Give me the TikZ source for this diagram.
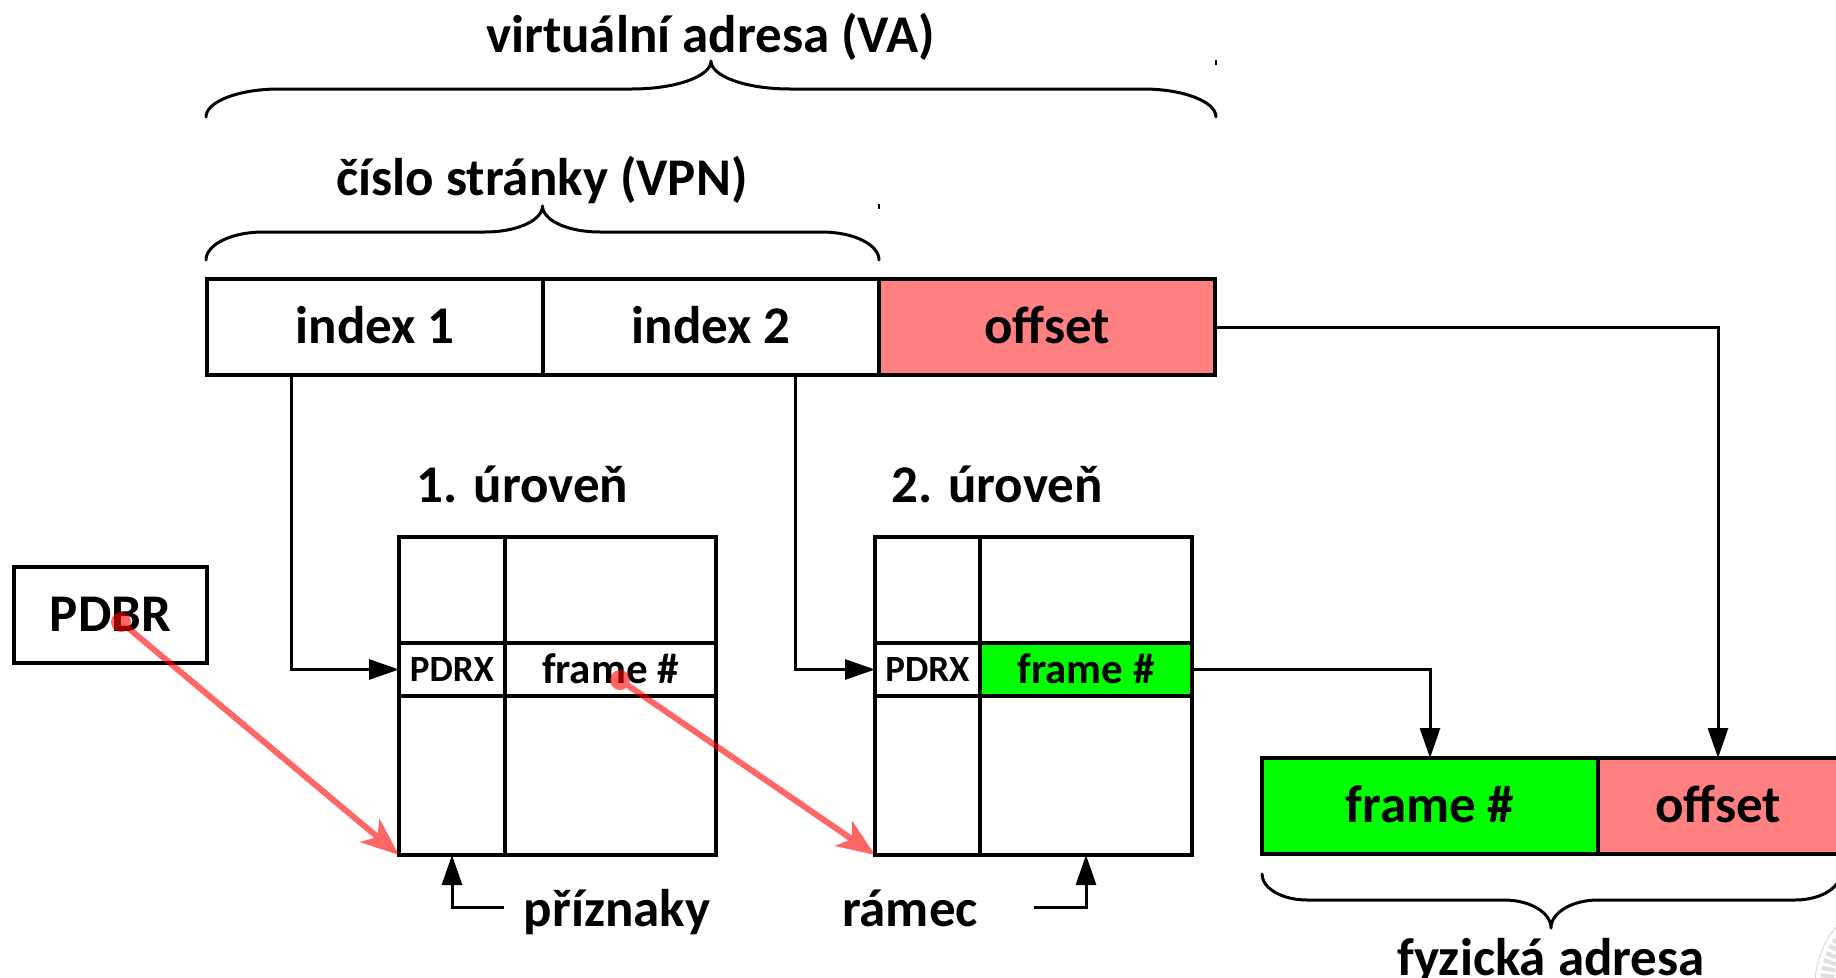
\documentclass[tikz,border=0pt]{standalone}
\usepackage{fontspec}
\setmainfont{Carlito}
\usetikzlibrary{arrows.meta,calc}

\definecolor{salmon}{RGB}{255,128,128}
\definecolor{framegreen}{RGB}{0,255,0}

% curly brace: x0, x1, y at the ends, y of the flat part, y of the tip, end curve width, middle curve width
\newcommand\drawcurly[7]{%
  \pgfmathsetmacro\crlXm{(#1+#2)/2}%
  \pgfmathsetmacro\crlYa{#3+0.552*(#4-#3)}%
  \pgfmathsetmacro\crlYb{#4+0.448*(#5-#4)}%
  \draw[bracepath] (#1,#3) .. controls (#1,\crlYa) and ({#1+0.448*#6},#4) .. ({#1+#6},#4)
    -- ({\crlXm-#7},#4) .. controls ({\crlXm-0.448*#7},#4) and (\crlXm,\crlYb) .. (\crlXm,#5)
    .. controls (\crlXm,\crlYb) and ({\crlXm+0.448*#7},#4) .. ({\crlXm+#7},#4)
    -- ({#2-#6},#4) .. controls ({#2-0.448*#6},#4) and (#2,\crlYa) .. (#2,#3);%
}

\begin{document}
\begin{tikzpicture}[x=1pt,y=-1pt,
  big/.style={font=\bfseries\fontsize{53}{60}\selectfont},
  mid/.style={font=\bfseries\fontsize{43}{50}\selectfont},
  small/.style={font=\bfseries\fontsize{37}{44}\selectfont},
  cell/.style={draw, line width=3.5pt, inner sep=0pt, outer sep=0pt, anchor=center},
  capbig/.style={text height=33pt, text depth=0pt},
  capmid/.style={text height=27pt, text depth=0pt},
  capsmall/.style={text height=23pt, text depth=0pt},
  label/.style={big, anchor=base, inner sep=0pt},
  conn/.style={line width=3pt, -{Triangle[length=30pt,width=20pt]}},
  bracepath/.style={line width=3pt, line cap=round, line join=round},
  redarrow/.style={red, line width=6pt, -{Stealth[length=38pt,width=30pt,inset=10pt]}},
]
\useasboundingbox (0,0) rectangle (1836,977);

% faint seal in the corner
\draw[gray!30, line width=1pt] (1905,985) circle (90) (1905,985) circle (66);
\draw[gray!25, line width=14pt, dash pattern=on 4pt off 3pt] (1905,985) circle (78);

% virtual address
\node[cell, big, capbig, minimum width=336pt, minimum height=96pt] (i1) at (375,327) {index 1};
\node[cell, big, capbig, minimum width=336pt, minimum height=96pt] (i2) at (711,327) {index 2};
\node[cell, big, capbig, minimum width=336pt, minimum height=96pt, fill=salmon] (off) at (1047,327) {offset};
\draw[line width=4pt] (i1.north west) rectangle (off.south east);

% braces over the address
\drawcurly{206}{1216}{117}{89}{61}{73}{79}
\drawcurly{206}{879}{260}{232}{206}{57}{57}
\draw[line width=1.2pt] (1216,60) -- (1216,65) (879,204) -- (879,209);
\node[label] (lva) at (710.5,52) {virtuální adresa (VA)};
\node[label] (lvpn) at (542,195) {číslo stránky (VPN)};

% PDBR register
\node[cell, big, capbig, minimum width=193pt, minimum height=96pt] (pdbr) at (110.5,615) {PDBR};

% first level table
\node[label] (l1) at (522.5,502) {1. úroveň};
\node[cell, minimum width=106pt, minimum height=106pt] (t1a) at (452,590) {};
\node[cell, minimum width=211pt, minimum height=106pt] (t1b) at (610.5,590) {};
\node[cell, small, capsmall, minimum width=106pt, minimum height=53pt] (t1p) at (452,669.5) {PDRX};
\node[cell, mid, capmid, minimum width=211pt, minimum height=53pt] (t1f) at (610.5,669.5) {frame \#};
\node[cell, minimum width=106pt, minimum height=159pt] (t1c) at (452,775.5) {};
\node[cell, minimum width=211pt, minimum height=159pt] (t1d) at (610.5,775.5) {};

% second level table
\node[label] (l2) at (997,502) {2. úroveň};
\node[cell, minimum width=105pt, minimum height=106pt] (t2a) at (927.5,590) {};
\node[cell, minimum width=212pt, minimum height=106pt] (t2b) at (1086,590) {};
\node[cell, small, capsmall, minimum width=105pt, minimum height=53pt] (t2p) at (927.5,669.5) {PDRX};
\node[cell, mid, capmid, minimum width=212pt, minimum height=53pt, fill=framegreen] (t2f) at (1086,669.5) {frame \#};
\node[cell, minimum width=105pt, minimum height=159pt] (t2c) at (927.5,775.5) {};
\node[cell, minimum width=212pt, minimum height=159pt] (t2d) at (1086,775.5) {};

% physical address
\node[cell, big, capbig, minimum width=336pt, minimum height=96pt, fill=framegreen] (pfr) at (1430,806) {frame \#};
\node[cell, big, capbig, minimum width=240pt, minimum height=96pt, fill=salmon] (poff) at (1718,806) {offset};
\draw[line width=4pt] (pfr.north west) rectangle (poff.south east);
\drawcurly{1262}{1840}{874}{900}{928}{45}{47}
\node[label] (lfa) at (1551,975) {fyzická adresa};

% bottom captions
\node[label] (lprz) at (617,926) {příznaky};
\node[label] (lram) at (910,926) {rámec};
\coordinate (przL) at (504,907);
\coordinate (ramR) at (1034,907);

% connectors
\draw[conn] ([xshift=84pt]i1.south west) |- (t1p.west);
\draw[conn] ([xshift=252pt]i2.south west) |- (t2p.west);
\draw[conn] (off.east) -| (poff.north);
\draw[conn] (t2f.east) -| (pfr.north);
\draw[conn] (przL) -| (t1c.south);
\draw[conn] (ramR) -| (t2d.south);

% base pointers
\coordinate (d1) at (121,622);
\coordinate (d2) at (620,680);
\begin{scope}[transparency group, opacity=0.6]
  \fill[red] (d1) circle (10) (d2) circle (10);
  \draw[redarrow] (d1) -- (t1c.south west);
  \draw[redarrow] (d2) -- (t2c.south west);
\end{scope}
\end{tikzpicture}
\end{document}
